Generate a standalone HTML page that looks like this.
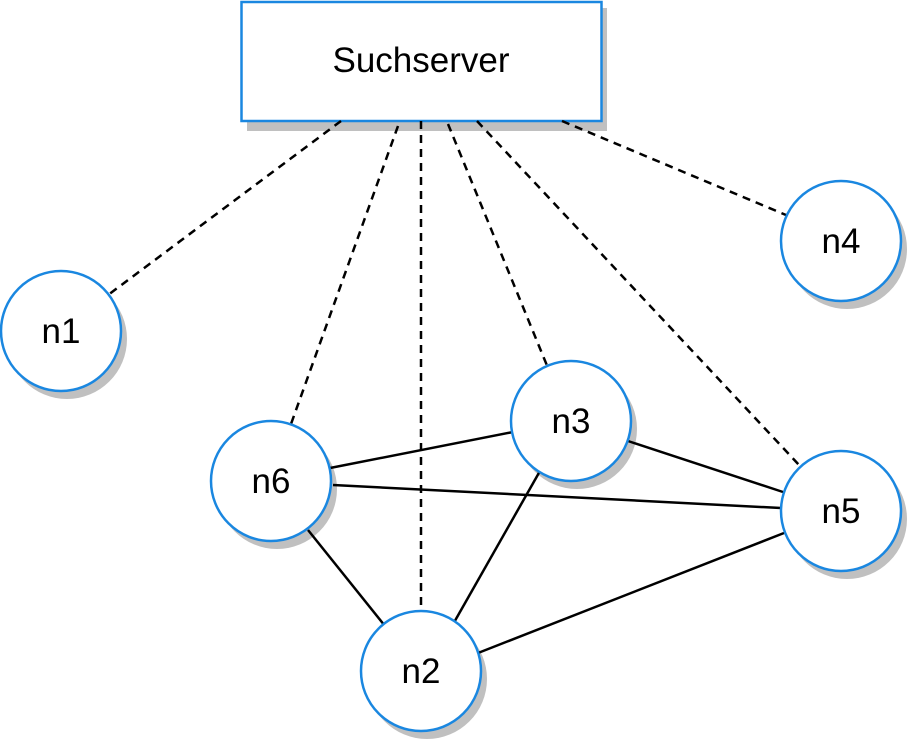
<!DOCTYPE html>
<html><head><style>html,body{margin:0;padding:0;background:#fff}</style></head><body>
<svg width="912" height="747" xmlns="http://www.w3.org/2000/svg" style="display:block">
<g fill="#c0c0c0">
<rect x="247" y="8" width="360" height="123"/>
<circle cx="67" cy="339" r="60"/>
<circle cx="847" cy="249" r="60"/>
<circle cx="277" cy="489" r="60"/>
<circle cx="577" cy="429" r="60"/>
<circle cx="847" cy="519" r="60"/>
<circle cx="427" cy="679" r="60"/>
</g>
<rect x="241.5" y="2" width="360" height="119" fill="#fff" stroke="#1a87e0" stroke-width="2.5"/>
<g stroke="#000" stroke-width="2.5" stroke-dasharray="8,6" fill="none">
<line x1="341" y1="121" x2="108" y2="295"/>
<line x1="398" y1="126" x2="291" y2="424"/>
<line x1="421" y1="121" x2="421" y2="614"/>
<line x1="448" y1="124" x2="548" y2="368"/>
<line x1="477" y1="121" x2="800" y2="466"/>
<line x1="562" y1="121" x2="786" y2="215"/>
</g>
<g stroke="#000" stroke-width="2.5">
<line x1="330" y1="468" x2="513" y2="432"/>
<line x1="333" y1="485" x2="781" y2="508"/>
<line x1="308" y1="530" x2="385" y2="626"/>
<line x1="628" y1="441" x2="783" y2="492"/>
<line x1="540" y1="471" x2="452" y2="626"/>
<line x1="478" y1="653" x2="784" y2="533"/>
</g>
<g fill="#fff" stroke="#1a87e0" stroke-width="2.5">
<circle cx="61" cy="331" r="60"/>
<circle cx="841" cy="241" r="60"/>
<circle cx="271" cy="481" r="60"/>
<circle cx="571" cy="421" r="60"/>
<circle cx="841" cy="511" r="60"/>
<circle cx="421" cy="671" r="60"/>
</g>
<g font-family="Liberation Sans, sans-serif" font-size="35" text-anchor="middle" fill="#000">
<text x="421" y="72">Suchserver</text>
<text x="61" y="343">n1</text>
<text x="841" y="253">n4</text>
<text x="271" y="493">n6</text>
<text x="571" y="433">n3</text>
<text x="841" y="523">n5</text>
<text x="421" y="683">n2</text>
</g>
</svg>
</body></html>
